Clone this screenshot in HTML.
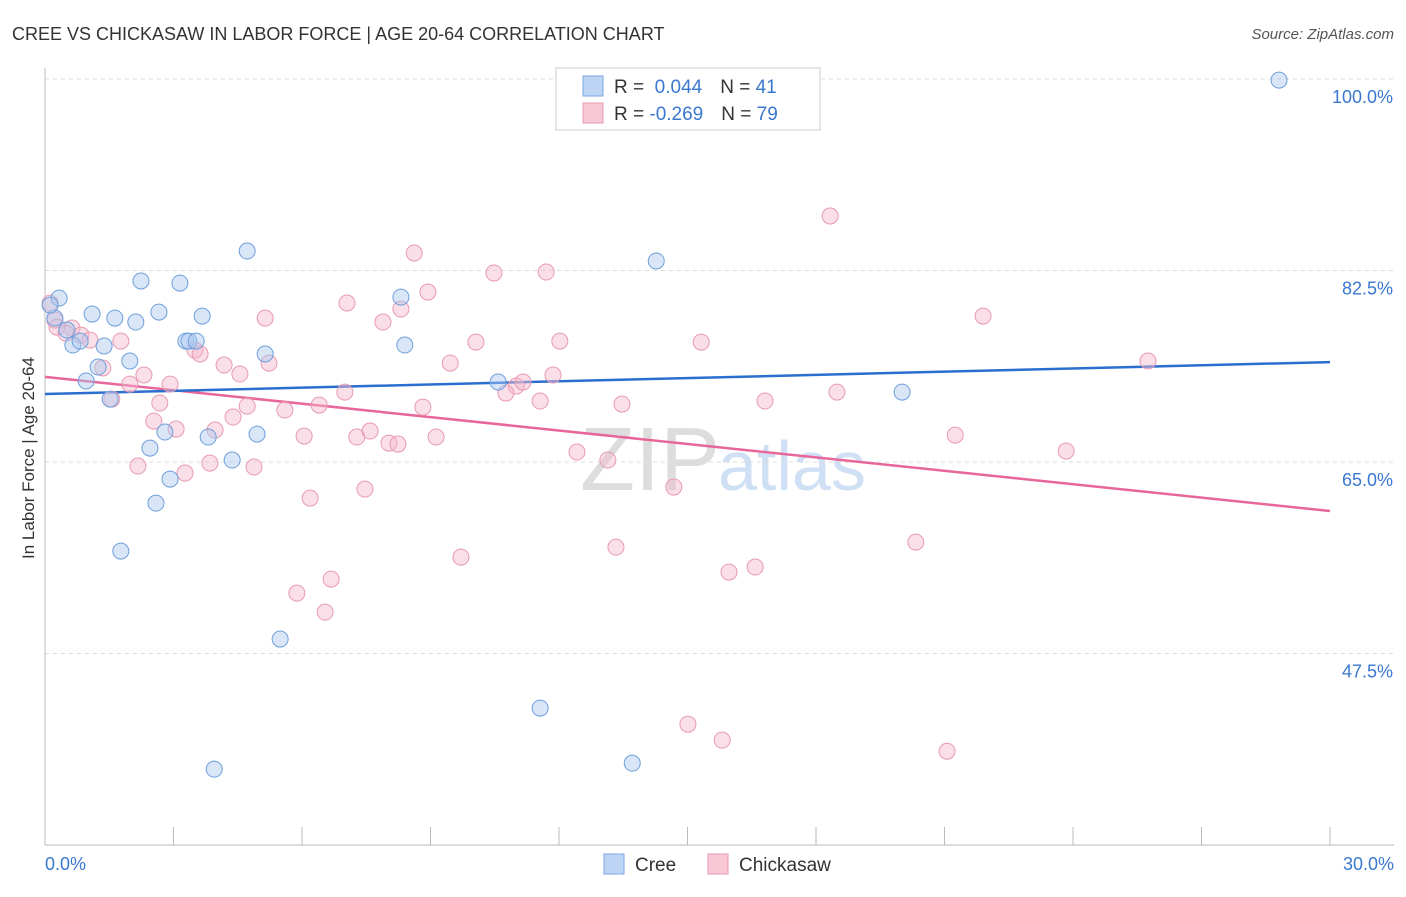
<!DOCTYPE html>
<html><head><meta charset="utf-8"><style>
body{margin:0;background:#fff;font-family:"Liberation Sans",sans-serif;}
svg text{font-family:"Liberation Sans",sans-serif;}
</style></head><body>
<svg id="chart" width="1406" height="892" xmlns="http://www.w3.org/2000/svg">
<text x="12" y="40" font-size="18" fill="#333">CREE VS CHICKASAW IN LABOR FORCE | AGE 20-64 CORRELATION CHART</text>
<text x="1394" y="39" font-size="15" fill="#555" text-anchor="end" font-style="italic">Source: ZipAtlas.com</text>
<text x="34" y="458" font-size="17" fill="#333" text-anchor="middle" transform="rotate(-90 34 458)">In Labor Force | Age 20-64</text>
<text x="720" y="490" font-size="90" fill="#ddd" text-anchor="end" font-family="Liberation Serif">ZIP</text>
<text x="718" y="490" font-size="70" fill="#cfe0f5">atlas</text>
<g id="grid"></g><g id="axes"></g><g id="lines"></g><g id="points"></g>
<g>
<rect x="556" y="68" width="264" height="62" fill="#fff" stroke="#ccc"/>
<rect x="583" y="76" width="20" height="20" fill="#bcd5f5" stroke="#7aa6e0"/>
<rect x="583" y="103" width="20" height="20" fill="#f9c8d7" stroke="#e89ab3"/>
<text x="614" y="93" font-size="19" fill="#333">R = <tspan fill="#3a78d0">&#160;0.044</tspan><tspan dx="18">N = </tspan><tspan fill="#3a78d0">41</tspan></text>
<text x="614" y="120" font-size="19" fill="#333">R = <tspan fill="#3a78d0">-0.269</tspan><tspan dx="18">N = </tspan><tspan fill="#3a78d0">79</tspan></text>
</g>
<g>
<rect x="604" y="854" width="20" height="20" fill="#bcd5f5" stroke="#7aa6e0"/>
<text x="635" y="871" font-size="19" fill="#333">Cree</text>
<rect x="708" y="854" width="20" height="20" fill="#f9c8d7" stroke="#e89ab3"/>
<text x="739" y="871" font-size="19" fill="#333">Chickasaw</text>
</g>
</svg>
<script>
const yTicks=[100,82.5,65,47.5];
const yTickLabels=["100.0%","82.5%","65.0%","47.5%"];
const xTickLabels=["0.0%","30.0%"];
const creeX=[28.81,4.72,2.24,3.15,14.27,0.33,8.31,1.10,1.63,2.66,3.67,2.12,0.23,0.51,0.65,0.82,1.38,3.29,3.36,3.53,5.14,8.40,1.98,1.24,0.96,10.58,1.52,20.01,2.80,3.81,4.95,2.45,4.37,2.92,2.59,1.77,5.49,11.56,13.71,3.95,0.12];
const creeY=[99.9,84.28,81.54,81.35,83.37,79.98,80.07,78.52,78.15,78.70,78.33,77.79,78.15,77.06,75.69,76.05,75.60,76.05,76.05,76.05,74.87,75.69,74.23,73.68,72.40,72.31,70.75,71.39,67.74,67.28,67.55,66.27,65.18,63.44,61.24,56.86,48.82,42.51,37.48,36.93,79.34];
const chickX=[18.33,8.62,10.48,11.70,8.94,7.05,8.31,5.14,7.89,21.90,0.23,0.63,0.28,0.49,0.84,1.05,1.77,10.06,12.02,15.32,3.50,3.62,4.18,5.23,9.46,25.75,1.35,2.31,4.55,11.86,1.98,2.92,11.00,11.16,10.76,7.00,18.49,2.68,1.56,4.72,5.60,6.40,8.82,11.56,13.47,16.81,4.39,2.54,3.06,3.97,6.05,7.28,7.59,8.03,8.24,9.13,21.25,12.42,13.14,23.84,2.17,3.27,3.85,4.88,14.68,6.19,7.47,9.71,13.33,20.33,15.97,16.58,6.68,5.88,6.54,15.01,15.81,21.06,0.12];
const chickY=[87.48,84.10,82.27,82.36,80.53,79.53,78.98,78.15,77.79,78.33,77.97,77.24,77.33,76.78,76.60,76.14,76.05,75.96,76.05,75.96,75.23,74.87,73.86,74.04,74.04,74.23,73.59,72.95,73.04,72.95,72.12,72.12,71.94,72.31,71.30,71.39,71.39,70.39,70.75,70.11,69.75,70.20,70.02,70.57,70.29,70.57,69.11,68.74,68.01,67.92,67.37,67.28,67.83,66.73,66.64,67.28,67.46,65.91,65.18,66.00,64.63,63.99,64.90,64.54,62.71,61.70,62.52,56.31,57.22,57.68,54.94,55.40,54.30,53.02,51.28,41.04,39.58,38.57,79.52];
const creeTrend=[71.21,74.13];
const chickTrend=[72.78,60.52];
const X0=45,X1=1330,Y0=79,Y1=845,XMIN=0,XMAX=30,YMIN=30,YMAX=100;
const sx=v=>X0+(v-XMIN)/(XMAX-XMIN)*(X1-X0);
const sy=v=>Y1-(v-YMIN)/(YMAX-YMIN)*(Y1-Y0);
const NS="http://www.w3.org/2000/svg";
function mk(tag,attrs,parent){const e=document.createElementNS(NS,tag);for(const k in attrs)e.setAttribute(k,attrs[k]);parent.appendChild(e);return e;}
const grid=document.getElementById('grid'),axes=document.getElementById('axes'),lines=document.getElementById('lines'),pts=document.getElementById('points');
yTicks.forEach((t,i)=>{
 const l=mk('line',{x1:X0,x2:1394,y1:sy(t),y2:sy(t),stroke:'#ddd','stroke-dasharray':'4,4'},grid);
 
 
 const tx=mk('text',{x:1393,y:sy(t)+24,'font-size':18,fill:'#3a78d0','text-anchor':'end'},axes);
 tx.textContent=yTickLabels[i];
 
 
});
const ax=mk('line',{x1:X0,x2:1394,y1:Y1,y2:Y1,stroke:'#bbb'},axes);


const ay=mk('line',{x1:X0,x2:X0,y1:68,y2:Y1,stroke:'#bbb'},axes);


for(let i=0;i<=10;i++){
 const v=XMIN+i*(XMAX-XMIN)/10;
 const tk=mk('line',{x1:sx(v),x2:sx(v),y1:Y1,y2:Y1-18,stroke:'#bbb'},axes);
 
 
}
[[XMIN,'start',45],[XMAX,'end',1394]].forEach((d,i)=>{
 const tx=mk('text',{x:d[2],y:870,'font-size':18,fill:'#3a78d0','text-anchor':d[1]},axes);
 tx.textContent=xTickLabels[i];
 
 
});
function dots(xs,ys,fill,stroke,name){
 xs.forEach((x,i)=>{
  const c=mk('circle',{cx:sx(x),cy:sy(ys[i]),r:8,fill:fill,'fill-opacity':0.45,stroke:stroke,'stroke-width':1},pts);
  
  
 });
}
dots(chickX,chickY,'#f5b8cb','#e89ab3','chickasaw-point');
dots(creeX,creeY,'#a9c8f0','#6f9fdc','cree-point');
const l1=mk('line',{x1:sx(XMIN),x2:sx(XMAX),y1:sy(chickTrend[0]),y2:sy(chickTrend[1]),stroke:'#e8679a','stroke-width':2.5},lines);


const l2=mk('line',{x1:sx(XMIN),x2:sx(XMAX),y1:sy(creeTrend[0]),y2:sy(creeTrend[1]),stroke:'#2a6fd0','stroke-width':2.5},lines);


</script>
</body></html>
